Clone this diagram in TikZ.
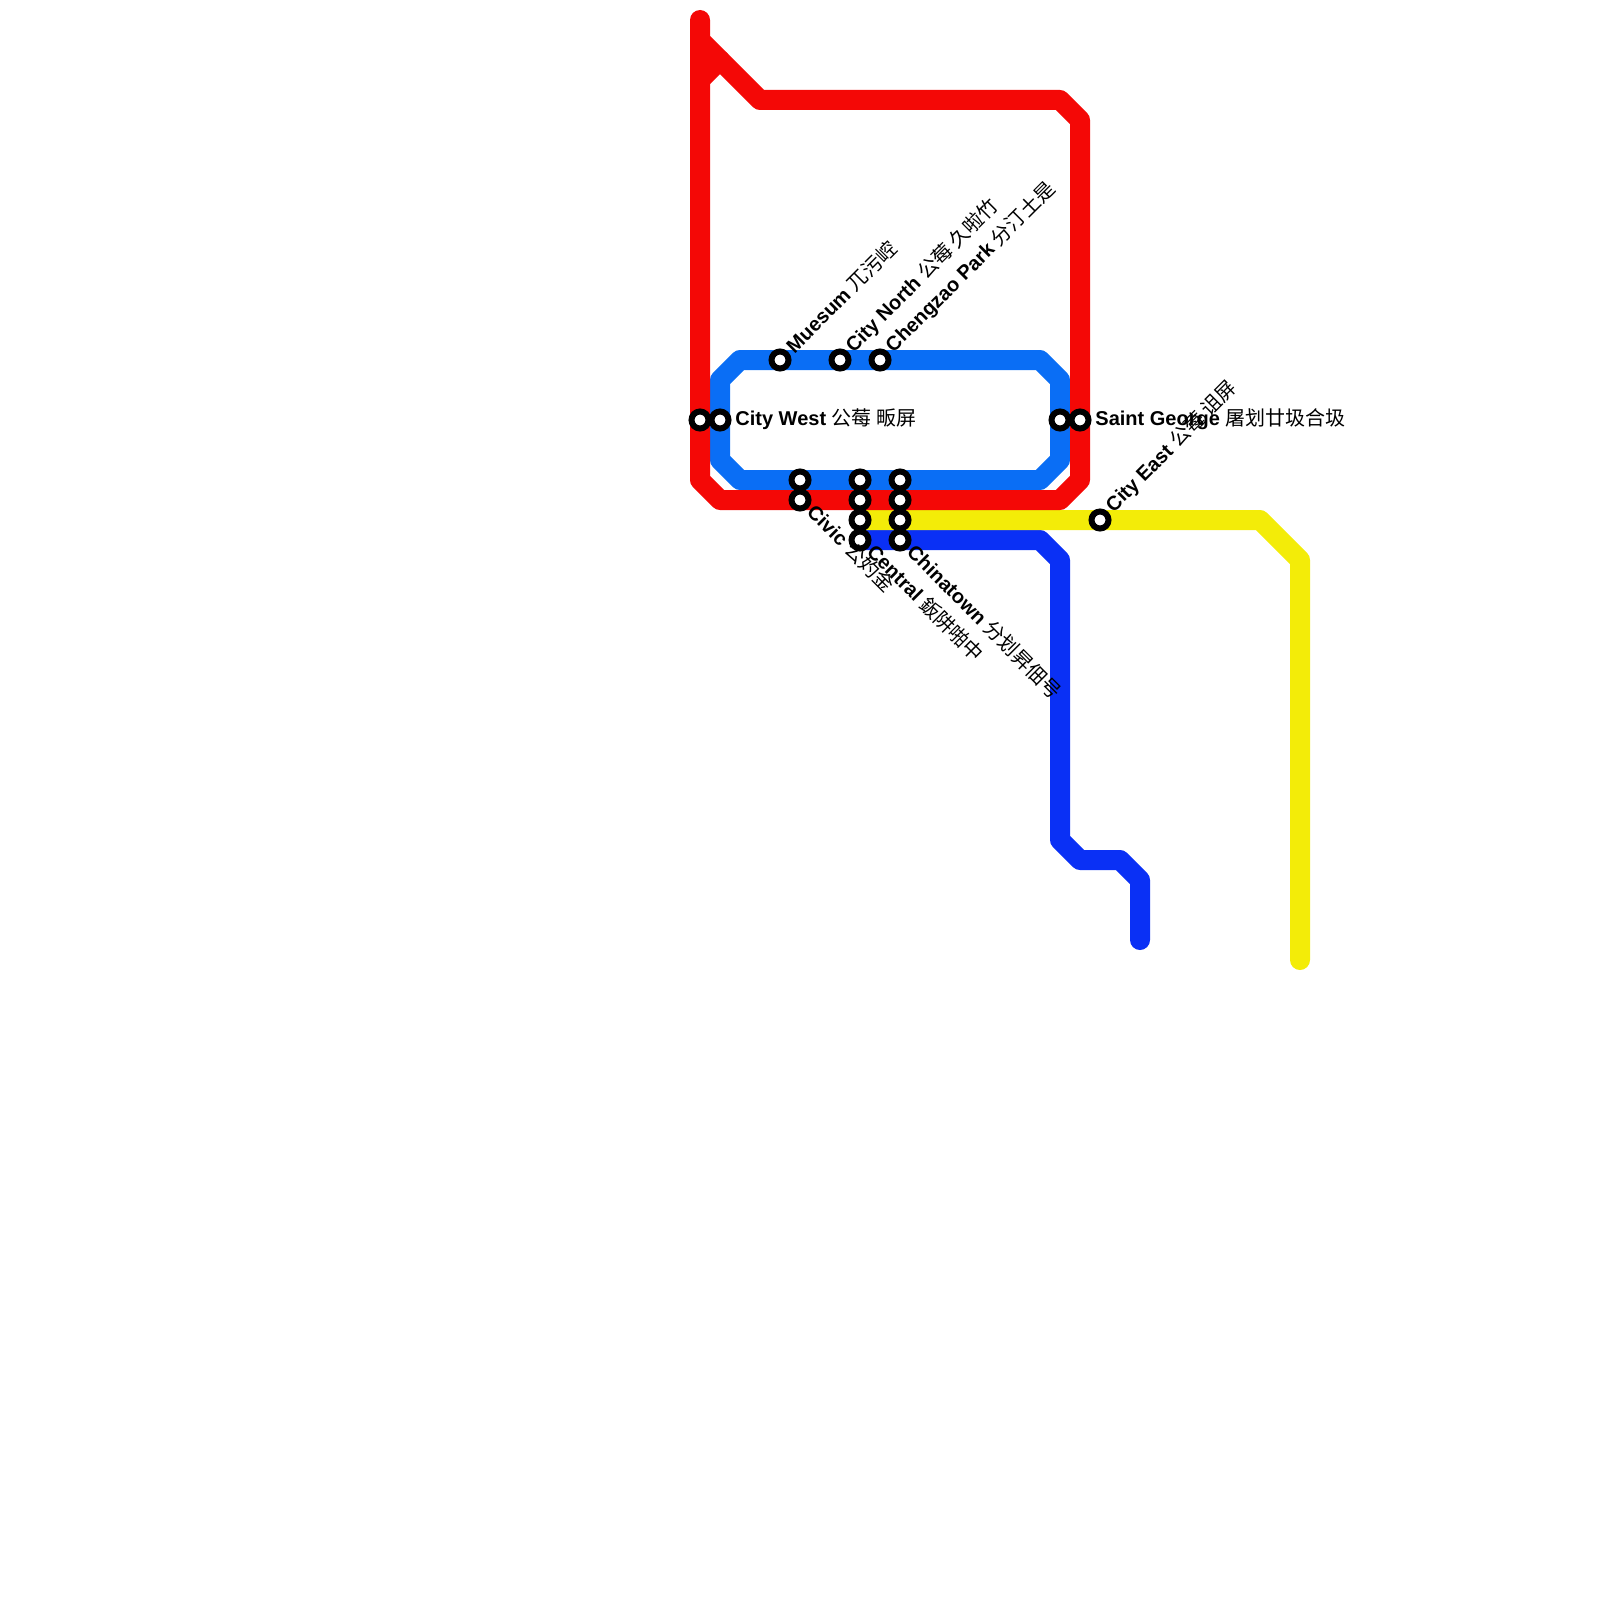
\documentclass[tikz,border=0pt]{standalone}
\usepackage{fontspec}
\setmainfont{Liberation Sans}
\newfontfamily\cjk{Noto Sans CJK SC}
\newcommand{\stn}[2]{{\bfseries #1} {\cjk #2}}
\tikzset{
  metro/.style={line width=10pt,line join=round,line cap=round},
  halt/.style={circle,draw=black,fill=white,line width=3pt,minimum size=8.5pt,inner sep=0pt},
  lab/.style={inner sep=0pt,font=\fontsize{10}{12}\selectfont},
}
\definecolor{linered}{RGB}{244,8,6}
\definecolor{lineblue}{RGB}{10,110,245}
\definecolor{lineyellow}{RGB}{243,236,8}
\definecolor{linenavy}{RGB}{10,48,245}
\begin{document}
\begin{tikzpicture}[x=.5pt,y=-.5pt]
\useasboundingbox (0,0) rectangle (1600,1600);
% lines
\draw[metro,lineblue] (720,380)--(740,360)--(1040,360)--(1060,380)--(1060,460)--(1040,480)--(740,480)--(720,460)--cycle;
\draw[metro,linenavy] (860,540)--(1040,540)--(1060,560)--(1060,840)--(1080,860)--(1120,860)--(1140,880)--(1140,940);
\draw[metro,lineyellow] (860,520)--(1260,520)--(1300,560)--(1300,960);
\draw[metro,linered] (700,20)--(700,480)--(720,500)--(1060,500)--(1080,480)--(1080,120)--(1060,100)--(760,100)--(700,40);
\draw[metro,linered] (720,60)--(700,80);
% stations
\foreach \nm/\px/\py in {wa/700/420,wb/720/420,mu/780/360,no/840/360,ch/880/360,ga/1060/420,gb/1080/420,
  ca/800/480,cb/800/500,da/860/480,db/860/500,dc/860/520,dd/860/540,
  ea/900/480,eb/900/500,ec/900/520,ed/900/540,ce/1100/520}
  \node[halt] (\nm) at (\px,\py) {};
% labels
\node[lab,anchor=west] (lwest) at (735,419) {\stn{City West}{公莓 畈屏}};
\node[lab,anchor=west] (lgeo) at (1095,419) {\stn{Saint George}{屠划廿圾合圾}};
\node[lab,anchor=west,rotate=45] (lmu) at (789,349) {\stn{Muesum}{兀污崆}};
\node[lab,anchor=west,rotate=45] (lno) at (849,349) {\stn{City North}{公莓 久啦竹}};
\node[lab,anchor=west,rotate=45] (lch) at (889,349) {\stn{Chengzao Park}{分汀土是}};
\node[lab,anchor=west,rotate=45] (lce) at (1109,509) {\stn{City East}{公莓 诅屏}};
\node[lab,anchor=west,rotate=-45] (lci) at (811,508) {\stn{Civic}{公妁金}};
\node[lab,anchor=west,rotate=-45] (lce2) at (871,548) {\stn{Central}{鈑阱啪中}};
\node[lab,anchor=west,rotate=-45] (lcn) at (911,548) {\stn{Chinatown}{分划昇佃号}};
\end{tikzpicture}
\end{document}
